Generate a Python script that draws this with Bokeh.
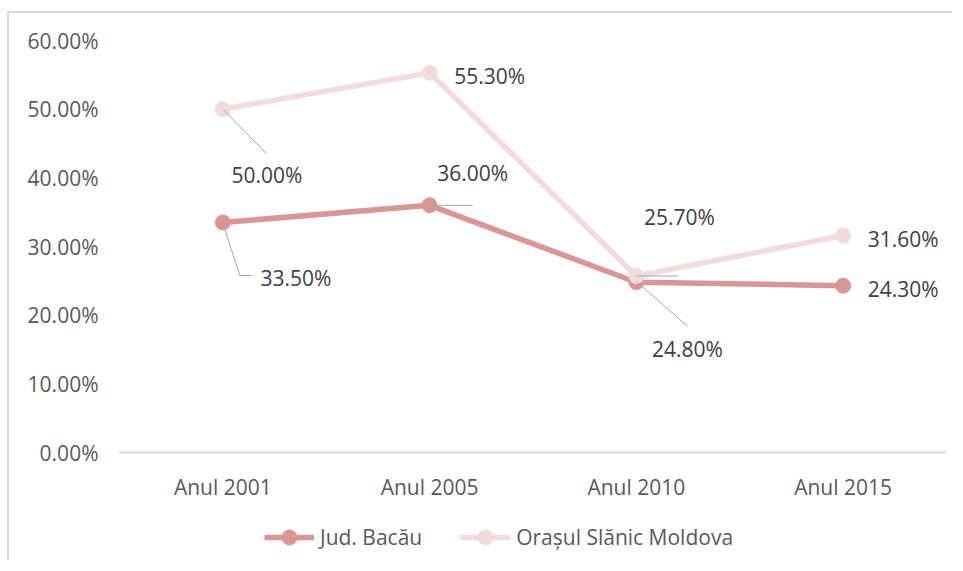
from bokeh.plotting import figure
from bokeh.layouts import column
from bokeh.models import (FactorRange, Range1d, NumeralTickFormatter, FixedTicker,
                          Legend, LegendItem, ColumnDataSource)
from bokeh.core.properties import value
from bokeh.embed import file_html
from bokeh.resources import INLINE

# ---- data ----
categories = ["Anul 2001", "Anul 2005", "Anul 2010", "Anul 2015"]
bacau = [0.335, 0.360, 0.248, 0.243]
slanic = [0.500, 0.553, 0.257, 0.316]
y_ticks = [0.0, 0.1, 0.2, 0.3, 0.4, 0.5, 0.6]
series_names = ["Jud. Bacău", "Orașul Slănic Moldova"]

C_BACAU = "#D99694"
C_SLANIC = "#F2DCDB"
FONT = "Open Sans"
BORDER = "2px solid #D9D9D9"

W, H = 945, 497
ML, MR, MT, MB = 110, 8, 27, 58
FRAME_W = W - ML - MR
FRAME_H = H - MT - MB
Y_MAX = 0.6
PX_PER_CAT = FRAME_W / len(categories)
PX_PER_UNIT = FRAME_H / Y_MAX

p = figure(width=W, height=H, x_range=FactorRange(*categories, range_padding=0),
           y_range=Range1d(0, Y_MAX), output_backend="svg", toolbar_location=None,
           min_border_left=ML, min_border_right=MR, min_border_top=MT,
           min_border_bottom=MB)
p.styles = {"border-top": BORDER, "border-left": BORDER,
            "margin-top": "11px", "margin-left": "7px"}
p.outline_line_color = None
p.xgrid.grid_line_color = None
p.ygrid.grid_line_color = None

# axes
p.yaxis.ticker = FixedTicker(ticks=y_ticks)
p.yaxis.formatter = NumeralTickFormatter(format="0.00%")
p.yaxis.axis_line_color = None
p.yaxis.major_tick_line_color = None
p.yaxis.minor_tick_line_color = None
p.yaxis.major_tick_out = 0
p.yaxis.major_label_standoff = 21
p.yaxis.major_label_text_font = FONT
p.yaxis.major_label_text_font_size = "21px"
p.yaxis.major_label_text_color = "#595959"

p.xaxis.axis_line_color = "#D9D9D9"
p.xaxis.axis_line_width = 2
p.xaxis.major_tick_line_color = None
p.xaxis.minor_tick_line_color = None
p.xaxis.major_tick_out = 0
p.xaxis.major_label_standoff = 20
p.xaxis.major_label_text_font = FONT
p.xaxis.major_label_text_font_size = "21px"
p.xaxis.major_label_text_color = "#595959"

# series
p.line(categories, bacau, line_color=C_BACAU, line_width=5.5)
p.scatter(categories, bacau, size=15, fill_color=C_BACAU, line_color=C_BACAU)
p.line(categories, slanic, line_color=C_SLANIC, line_width=5.5)
p.scatter(categories, slanic, size=15, fill_color=C_SLANIC, line_color=C_SLANIC)

# data label offsets (pixels, screen: +x right, +y down)
lab_dx_b = [73, 43, 51, 60]
lab_dy_b = [56, -32, 67, 3]
lab_dx_s = [44, 60, 43, 60]
lab_dy_s = [66, 3, -59, 3]

def pct(v):
    return f"{v*100:.2f}%"

for vals, dxs, dys in [(bacau, lab_dx_b, lab_dy_b), (slanic, lab_dx_s, lab_dy_s)]:
    src = ColumnDataSource(dict(x=categories, y=vals, t=[pct(v) for v in vals],
                                dx=dxs, dy=dys))
    p.text(x="x", y="y", text="t", x_offset="dx", y_offset="dy", source=src,
           text_align="center", text_baseline="middle",
           text_font=value(FONT), text_font_size="21px", text_color="#404040")

# leader lines: (series, index, list of pixel-offset points)
leaders = [
    (slanic, 0, [(1, 1), (44, 45)]),
    (bacau, 0, [(0, 1), (17, 53), (29, 53)]),
    (bacau, 1, [(2, 0), (43, 0)]),
    (slanic, 2, [(0, 0), (42, 0)]),
    (bacau, 2, [(1, 0), (51, 44)]),
]
for vals, i, pts in leaders:
    xs = [i + 0.5 + dx / PX_PER_CAT for dx, dy in pts]
    ys = [vals[i] - dy / PX_PER_UNIT for dx, dy in pts]
    p.line(xs, ys, line_color="#A6A6A6", line_width=1)

# ---- legend strip ----
LH = 52
lf = figure(width=W, height=LH, x_range=Range1d(0, 1), y_range=Range1d(0, 1),
            output_backend="svg", toolbar_location=None,
            min_border_left=0, min_border_right=0, min_border_top=0, min_border_bottom=0)
lf.styles = {"border-left": BORDER, "margin-left": "7px"}
lf.axis.visible = False
lf.xgrid.grid_line_color = None
lf.ygrid.grid_line_color = None
lf.outline_line_color = None
nan = float("nan")
proxy = dict(x=[nan], y=[nan])  # legend proxies, nothing drawn
l1 = lf.line(x="x", y="y", source=ColumnDataSource(proxy), line_color=C_BACAU, line_width=5.5)
m1 = lf.scatter(x="x", y="y", source=ColumnDataSource(proxy), size=15,
                fill_color=C_BACAU, line_color=C_BACAU)
l2 = lf.line(x="x", y="y", source=ColumnDataSource(proxy), line_color=C_SLANIC, line_width=5.5)
m2 = lf.scatter(x="x", y="y", source=ColumnDataSource(proxy), size=15,
                fill_color=C_SLANIC, line_color=C_SLANIC)

legend = Legend(items=[LegendItem(label=series_names[0], renderers=[l1, m1]),
                       LegendItem(label=series_names[1], renderers=[l2, m2])],
                orientation="horizontal", location=(145, 4))
legend.padding = 0
legend.margin = 0
legend.spacing = 38
legend.border_line_color = None
legend.background_fill_alpha = 0
legend.glyph_width = 50
legend.glyph_height = 38
legend.label_height = 38
legend.label_standoff = 6
legend.label_text_font = FONT
legend.label_text_font_size = "21px"
legend.label_text_color = "#595959"
lf.add_layout(legend, "center")

layout = column(p, lf, spacing=0)
open("out.html", "w").write(file_html(layout, INLINE))
